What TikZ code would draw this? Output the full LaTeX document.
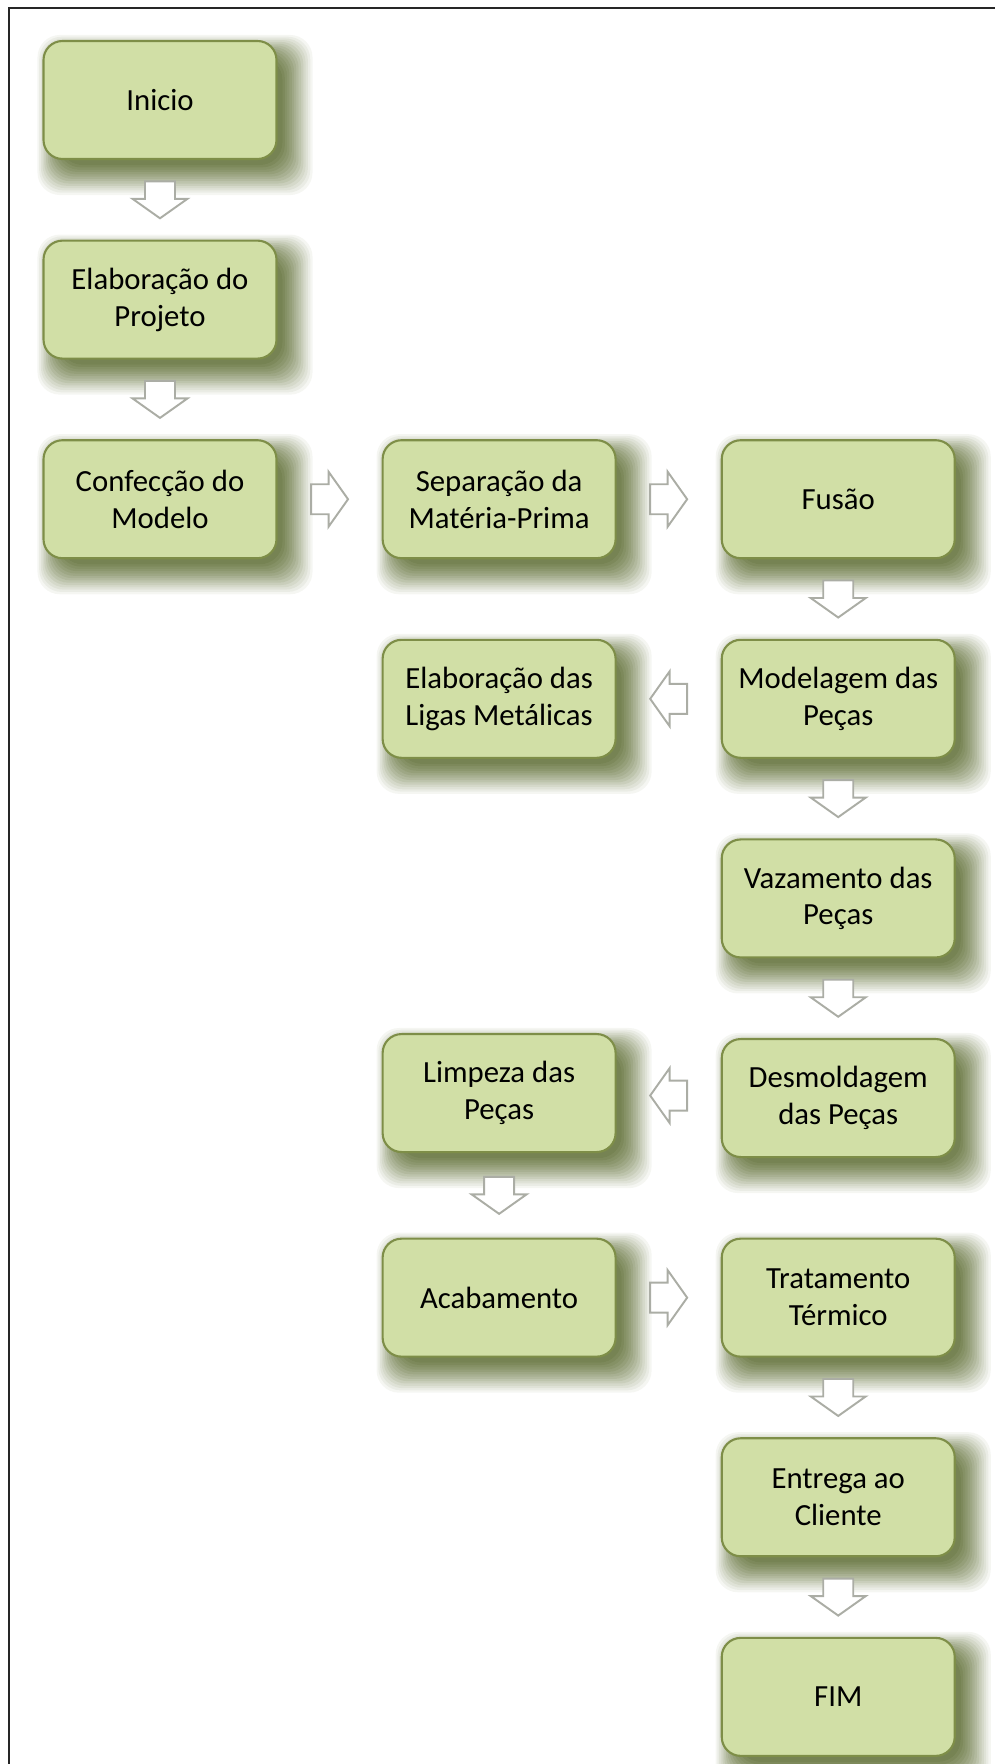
\documentclass[tikz,border=0pt]{standalone}
\usepackage{fontspec}
\setmainfont{Carlito}
\usepackage{xcolor}
\usepackage{tikz}
\usetikzlibrary{positioning,calc,backgrounds}
\definecolor{boxgreen}{HTML}{D1DFA6}
\definecolor{boxrim}{HTML}{7E8E48}
\definecolor{shadowolive}{HTML}{56662A}
\definecolor{arrowgray}{HTML}{ABADA5}
\tikzset{
  stepbox/.style={draw=boxrim, line width=1.2pt, fill=boxgreen, rounded corners=0.38cm,
    minimum width=4.66cm, minimum height=2.36cm, align=center, inner sep=2pt,
    font=\fontsize{17.5}{21}\selectfont, text=black},
  shadowstep/.style={fill=shadowolive, opacity=#1, rounded corners=0.45cm},
  flowarrow/.style={draw=arrowgray, line width=1.1pt, fill=white, line join=miter}
}
% box with a soft shadow below right
\newcommand{\StepNode}[3]{%
  \node[stepbox, #2] (#1) {#3};
  \begin{pgfonlayer}{background}
    \foreach \k in {0,...,13} {
      \pgfmathsetmacro{\t}{\k/13}
      \pgfmathsetmacro{\lo}{0.35-0.45*\t}
      \pgfmathsetmacro{\hi}{0.1+0.6*\t}
      \pgfmathsetmacro{\dn}{-0.1-0.6*\t}
      \pgfmathsetmacro{\up}{-0.35+0.45*\t}
      \pgfmathsetmacro{\op}{0.16-0.1*\t}
      \fill[shadowstep=\op] ($(#1.south west)+(\lo,\dn)$) rectangle ($(#1.north east)+(\hi,\up)$);
    }
  \end{pgfonlayer}
}
% hollow block arrow halfway between two anchors
\newcommand{\FlowArrow}[3]{%
  \coordinate (mid) at ($(#1)!0.5!(#2)$);
  \draw[flowarrow, shift={(mid)}, rotate=#3] (-0.37,0.3) -- (-0.02,0.3) -- (-0.02,0.55)
    -- (0.37,0) -- (-0.02,-0.55) -- (-0.02,-0.3) -- (-0.37,-0.3) -- cycle;
}

\begin{document}
\begin{tikzpicture}[scale=1, node distance=1.59cm and 2.08cm]
  \useasboundingbox (0,0) rectangle (19.88,-35.28);
  \draw[line width=1.1pt, black!85] (0.18,-35.6) -- (0.18,-0.16) -- (20,-0.16);

  % left column
  \StepNode{inicio}{at={(3.2,-2.0)}}{Inicio}
  \StepNode{projeto}{below=of inicio}{Elaboração do\\Projeto}
  \StepNode{confeccao}{below=of projeto}{Confecção do\\Modelo}
  % top row
  \StepNode{separacao}{right=of confeccao}{Separação da\\Matéria-Prima}
  \StepNode{fusao}{right=of separacao}{Fusão}
  % right column
  \StepNode{modelagem}{below=of fusao}{Modelagem das\\Peças}
  \StepNode{ligas}{left=of modelagem}{Elaboração das\\Ligas Metálicas}
  \StepNode{vazamento}{below=of modelagem}{Vazamento das\\Peças}
  \StepNode{desmoldagem}{below=of vazamento}{Desmoldagem\\das Peças}
  \StepNode{limpeza}{left=of desmoldagem, yshift=0.1cm}{Limpeza das\\Peças}
  \StepNode{tratamento}{below=of desmoldagem}{Tratamento\\Térmico}
  \StepNode{acabamento}{left=of tratamento}{Acabamento}
  \StepNode{entrega}{below=of tratamento}{Entrega ao\\Cliente}
  \StepNode{fim}{below=of entrega}{FIM}

  \FlowArrow{inicio.south}{projeto.north}{-90}
  \FlowArrow{projeto.south}{confeccao.north}{-90}
  \FlowArrow{confeccao.east}{separacao.west}{0}
  \FlowArrow{separacao.east}{fusao.west}{0}
  \FlowArrow{fusao.south}{modelagem.north}{-90}
  \FlowArrow{modelagem.west}{ligas.east}{180}
  \FlowArrow{modelagem.south}{vazamento.north}{-90}
  \FlowArrow{vazamento.south}{desmoldagem.north}{-90}
  \FlowArrow{desmoldagem.west}{limpeza.east}{180}
  \FlowArrow{limpeza.south}{acabamento.north}{-90}
  \FlowArrow{acabamento.east}{tratamento.west}{0}
  \FlowArrow{tratamento.south}{entrega.north}{-90}
  \FlowArrow{entrega.south}{fim.north}{-90}
\end{tikzpicture}
\end{document}
